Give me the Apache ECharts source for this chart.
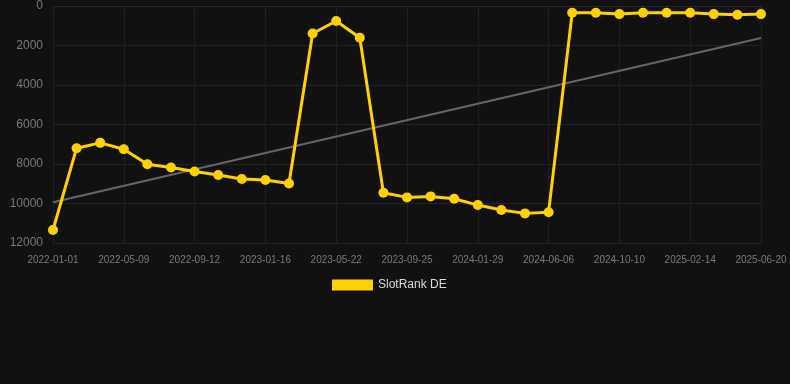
<!DOCTYPE html>
<html><head><meta charset="utf-8">
<script src="https://cdn.jsdelivr.net/npm/echarts@6/dist/echarts.min.js"></script>
<style>html,body{margin:0;padding:0;background:#111111;}#c{width:790px;height:384px;}</style>
</head><body><div id="c"></div>
<script>
var categories = ['2022-01-01','2022-02-12','2022-03-26','2022-05-09','2022-06-20','2022-08-01','2022-09-12','2022-10-24','2022-12-05','2023-01-16','2023-02-27','2023-04-10','2023-05-22','2023-07-03','2023-08-14','2023-09-25','2023-11-06','2023-12-18','2024-01-29','2024-03-12','2024-04-24','2024-06-06','2024-07-18','2024-08-29','2024-10-10','2024-11-21','2025-01-03','2025-02-14','2025-03-28','2025-05-09','2025-06-20'];
var slotRank = [11340,7200,6930,7250,8010,8180,8380,8560,8760,8810,8990,1390,760,1610,9460,9690,9640,9760,10080,10330,10500,10440,340,340,410,340,340,340,410,440,410];
var trendStart = 9940, trendEnd = 1620;
var yTicks = [0,2000,4000,6000,8000,10000,12000];
var trend = categories.map(function(_, i){ return i===0 ? trendStart : (i===categories.length-1 ? trendEnd : null); });

var chart = echarts.init(document.getElementById('c'));
chart.setOption({
  backgroundColor:'#111111',
  animation:false,
  grid:{left:53,right:29,top:6,bottom:141,containLabel:false},
  legend:{data:[{name:'SlotRank DE',icon:'rect'}],top:274,left:327,itemWidth:41,itemHeight:11,itemGap:10,
    textStyle:{color:'#dddddd',fontSize:12,fontFamily:'Arial, Liberation Sans, sans-serif'}},
  xAxis:{type:'category',data:categories,boundaryGap:false,
    axisLine:{show:true,lineStyle:{color:'#262626'}},
    axisTick:{show:true,interval:2,lineStyle:{color:'#262626'}},
    splitLine:{show:true,interval:2,lineStyle:{color:'#1f1f1f'}},
    axisLabel:{interval:2,color:'#7a7a7a',fontSize:10,margin:12,fontFamily:'Arial, Liberation Sans, sans-serif'}},
  yAxis:{type:'value',inverse:true,min:0,max:12000,interval:2000,
    axisLine:{show:false},axisTick:{show:false},
    splitLine:{lineStyle:{color:'#222222'}},
    axisLabel:{color:'#7a7a7a',fontSize:12,margin:10,fontFamily:'Arial, Liberation Sans, sans-serif',
      formatter:function(v){return yTicks.indexOf(v)>=0?String(v):'';}}},
  series:[
    {name:'SlotRank DE',type:'line',data:slotRank,symbol:'circle',symbolSize:10,
      lineStyle:{color:'#FFD100',width:3},itemStyle:{color:'#FFD100'},z:3},
    {name:'trend',type:'line',data:trend,connectNulls:true,symbol:'none',
      lineStyle:{color:'#666666',width:2},itemStyle:{color:'#666666'},z:2,silent:true}
  ]
});
</script></body></html>
